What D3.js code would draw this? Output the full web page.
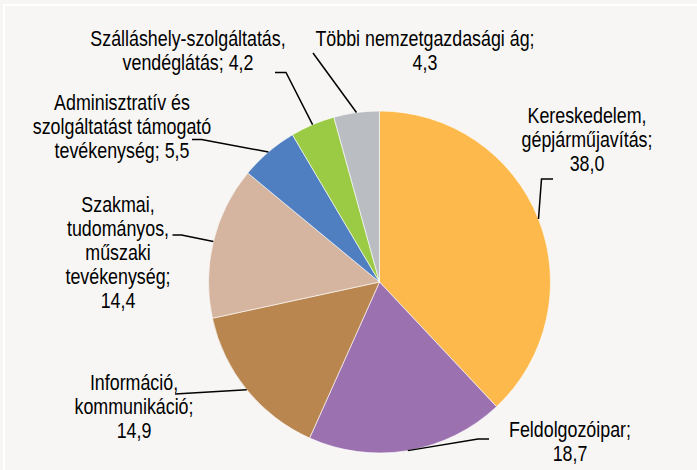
<!DOCTYPE html>
<html>
  <head>
    <meta charset="utf-8">
    <title>Nemzetgazdasági ágak megoszlása</title>
    <script src="https://d3js.org/d3.v7.min.js"></script>
    <style>
      body { margin: 0; background: #f7f6f4; }
      text { font-family: "Liberation Sans", Arial, sans-serif; font-size: 21.5px; fill: #000000; }
    </style>
  </head>
  <body>
    <script>
      var width = 697;
      var height = 470;

      // data, clockwise from 12 o'clock
      var categories = [
        "Kereskedelem, gépjárműjavítás",
        "Feldolgozóipar",
        "Információ, kommunikáció",
        "Szakmai, tudományos, műszaki tevékenység",
        "Adminisztratív és szolgáltatást támogató tevékenység",
        "Szálláshely-szolgáltatás, vendéglátás",
        "Többi nemzetgazdasági ág"
      ];
      var values = [38.0, 18.7, 14.9, 14.4, 5.5, 4.2, 4.3];
      // label lines as printed; the value is appended to the last line
      var labelLines = [
        ["Kereskedelem,", "gépjárműjavítás;", ""],
        ["Feldolgozóipar;", ""],
        ["Információ,", "kommunikáció;", ""],
        ["Szakmai,", "tudományos,", "műszaki", "tevékenység;", ""],
        ["Adminisztratív és", "szolgáltatást támogató", "tevékenység; "],
        ["Szálláshely-szolgáltatás,", "vendéglátás; "],
        ["Többi nemzetgazdasági ág;", ""]
      ];
      var colors = ["#fdb94c", "#9b71b0", "#b98650", "#d5b59f", "#507fc1", "#9bcb45", "#babec2"];

      // layout
      var cx = 379.5, cy = 282, radius = 171;
      var lineH = 24;
      var labelX = [587, 570, 134, 118, 122, 188, 425];
      var labelY = [123, 437, 390, 212, 110, 46, 46];
      var leaderBends = [
        [[541.5, 179], [553, 179]],
        [[478, 439], [489, 439]],
        [[175, 394]],
        [[181.5, 235], [172.5, 235]],
        [[201.5, 139.5], [192, 139.5]],
        [[286, 72.5], [275, 72.5]],
        [[313, 53]]
      ];

      var fmt = d3.formatLocale({decimal: ",", thousands: " ", grouping: [3], currency: ["", ""]}).format(".1f");

      var svg = d3.select("body")
        .append("svg")
        .attr("width", width)
        .attr("height", height);

      svg.append("rect")
        .attr("x", 4)
        .attr("y", 5)
        .attr("width", width + 10)
        .attr("height", height + 10)
        .attr("fill", "#f7f6f4")
        .attr("stroke", "#ffffff")
        .attr("stroke-width", 2);

      var pie = d3.pie().sort(null).value(function(d) { return d; });
      var arcs = pie(values);

      var arc = d3.arc().innerRadius(0).outerRadius(radius);
      var edge = d3.arc().innerRadius(radius).outerRadius(radius);

      var g = svg.append("g")
        .attr("transform", `translate(${cx},${cy})`);

      g.selectAll("path")
        .data(arcs)
        .enter()
        .append("path")
          .attr("d", arc)
          .attr("fill", function(d, i) { return colors[i]; })
          .attr("stroke", "#ffffff")
          .attr("stroke-width", 0.6);

      // leader lines
      var line = d3.line();
      svg.selectAll("path.leader")
        .data(arcs)
        .enter()
        .append("path")
          .attr("class", "leader")
          .attr("d", function(d, i) {
            var c = edge.centroid(d);
            var pts = [[cx + c[0], cy + c[1]]].concat(leaderBends[i]);
            return line(pts);
          })
          .attr("fill", "none")
          .attr("stroke", "#000000")
          .attr("stroke-width", 1.5);

      // labels
      var labels = svg.selectAll("text.label")
        .data(arcs)
        .enter()
        .append("text")
          .attr("class", "label")
          .attr("text-anchor", "middle")
          .attr("transform", function(d, i) { return `translate(${labelX[i]},${labelY[i]}) scale(0.83,1)`; });

      labels.each(function(d, i) {
        var lines = labelLines[i].slice();
        lines[lines.length - 1] = lines[lines.length - 1] + fmt(values[i]);
        d3.select(this).selectAll("tspan")
          .data(lines)
          .enter()
          .append("tspan")
            .attr("x", 0)
            .attr("y", function(t, j) { return j * lineH; })
            .text(function(t) { return t; });
      });
    </script>
  </body>
</html>
